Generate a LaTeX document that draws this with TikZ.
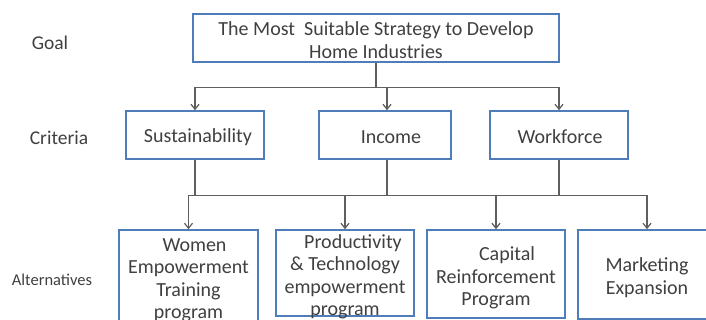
\documentclass[tikz,border=0pt]{standalone}
\usepackage{fontspec}
\setmainfont{Carlito}
\usetikzlibrary{arrows.meta}
\definecolor{boxblue}{HTML}{4F7DB9}
\definecolor{linegray}{HTML}{5F5F5F}
\definecolor{txtgray}{HTML}{404040}
\begin{document}
\begin{tikzpicture}[x=1pt,y=-1pt,
  box/.style={draw=boxblue, line width=1.6pt, fill=white, inner sep=0pt},
  txt/.style={inner sep=0pt, align=center, text=txtgray, font=\fontsize{20}{22.5}\selectfont},
  lbl/.style={inner sep=0pt, text=txtgray, font=\fontsize{19.5}{22.5}\selectfont},
  conn/.style={draw=linegray, line width=1.2pt},
  arr/.style={conn, -{Straight Barb[length=5pt,width=8pt]}}]
\useasboundingbox (0,0) rectangle (706,320);
\clip (0,0) rectangle (706,320);
\fill[white] (0,0) rectangle (706,320);
% labels
\node[lbl] (lgoal) at (50,43) {Goal};
\node[lbl] (lcrit) at (59,138) {Criteria};
\node[lbl, font=\fontsize{16.5}{18}\selectfont] (lalt) at (52,280) {Alternatives};
% goal
\node[box, minimum width=366pt, minimum height=48pt] (goal) at (376,38) {};
\node[txt] (tgoal) at ([yshift=-2pt]goal.center)
  {The Most\ \ Suitable Strategy to Develop\\Home Industries};
% criteria
\node[box, minimum width=138pt, minimum height=48pt] (sus) at (195,135) {};
\node[box, minimum width=132pt, minimum height=48pt] (inc) at (385,135) {};
\node[box, minimum width=138pt, minimum height=48pt] (wf) at (559,135) {};
\node[txt] (tsus) at ([xshift=3pt,yshift=-2pt]sus.center) {Sustainability};
\node[txt] (tinc) at ([xshift=6pt,yshift=-2pt]inc.center) {Income};
\node[txt] (twf) at ([xshift=1pt,yshift=-2pt]wf.center) {Workforce};
% alternatives
\node[box, minimum width=139pt, minimum height=95pt] (alt1) at (188.5,277.5) {};
\node[box, minimum width=138pt, minimum height=86pt] (alt2) at (345,273) {};
\node[box, minimum width=138pt, minimum height=88pt] (alt3) at (496,274) {};
\node[box, minimum width=138pt, minimum height=89pt] (alt4) at (647,274.5) {};
\node[txt] (talt1) at ([yshift=-3pt]alt1.center)
  {\hspace*{12pt}Women\\Empowerment\\Training\\program};
\node[txt] (talt2) at ([yshift=-4pt]alt2.center)
  {\hspace*{16pt}Productivity\\\& Technology\\empowerment\\program};
\node[txt] (talt3) at ([yshift=-4pt]alt3.center)
  {\hspace*{22pt}Capital\\Reinforcement\\Program};
\node[txt] (talt4) at ([yshift=-3pt]alt4.center)
  {Marketing\\Expansion};
% goal -> criteria
\draw[conn] (goal.south) -- ++(0,25) coordinate (j1);
\draw[arr] (j1) -| (sus.north);
\draw[arr] (j1) -| (wf.north);
\draw[arr] ([xshift=2pt]inc.north |- j1) -- ([xshift=2pt]inc.north);
% criteria -> alternatives
\draw[conn] (sus.south) -- ++(0,36) coordinate (b1);
\draw[conn] ([xshift=2pt]inc.south) -- ([xshift=2pt]inc.south |- b1);
\draw[conn] (wf.south) -- (wf.south |- b1) coordinate (b2);
\draw[conn] (b1) -- (b2);
\draw[arr] (b1) -| (alt1.north);
\draw[arr] (b2) -| (alt4.north);
\draw[arr] (alt2.north |- b1) -- (alt2.north);
\draw[arr] (alt3.north |- b1) -- (alt3.north);
\end{tikzpicture}
\end{document}
